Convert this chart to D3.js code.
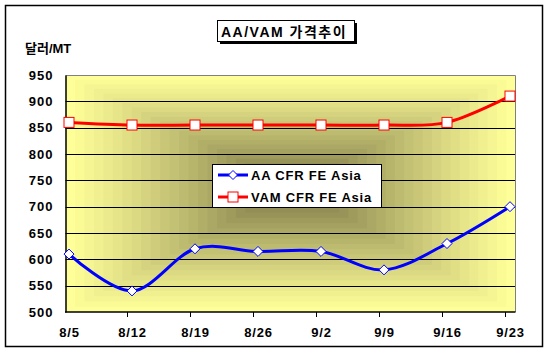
<!DOCTYPE html>
<html><head><meta charset="utf-8">
<script src="https://cdn.jsdelivr.net/npm/d3@7"></script>
<style>body{margin:0;background:#fff}svg{display:block}</style>
</head><body>
<svg id="c" width="549" height="355"></svg>
<script>
const categories = ["8/5","8/12","8/19","8/26","9/2","9/9","9/16","9/23"];
const aaValues = [610,540,620,615,615,580,630,700];
const vamValues = [860,855,855,855,855,855,860,910];
const yTicks = [500,550,600,650,700,750,800,850,900,950];
const seriesNames = ["AA CFR FE Asia","VAM CFR FE Asia"];
const titleText = "AA/VAM 가격추이";
const unitText = "달러/MT";

const svg = d3.select("#c");
const latin = "'Liberation Sans', Arial, sans-serif";
const kr = "'Liberation Sans', 'Noto Sans CJK KR', sans-serif";

// outer border
svg.append("rect").attr("x",5.5).attr("y",5.5).attr("width",537).attr("height",341)
  .attr("fill","#fff").attr("stroke","#000").attr("stroke-width",1.5);

const plot = {l:65.5, t:75, r:515.5, b:312};
const x = d3.scalePoint().domain(categories).range([69,510]);
const y = d3.scaleLinear().domain([500,950]).range([plot.b, plot.t]);

// rectangular gradient from center
const W = plot.r-plot.l, H = plot.b-plot.t;
const cx = plot.l + W*0.505, cy = plot.t + H*0.47;
const steps = 24;
const col = d3.interpolateRgb("#ffff99", "#787345");
const g0 = svg.append("g");
for (let i=0;i<steps;i++){
  const f = 1 - i/steps;
  const left = cx - (cx-plot.l)*f, right = cx + (plot.r-cx)*f;
  const top = cy - (cy-plot.t)*f, bot = cy + (plot.b-cy)*f;
  g0.append("rect").attr("x",left).attr("y",top).attr("width",right-left).attr("height",bot-top)
    .attr("fill", col(Math.pow(i/(steps-1),1.1)));
}

// gridlines
svg.append("g").selectAll("line").data(yTicks.slice(1,-1)).join("line")
  .attr("x1",plot.l).attr("x2",plot.r).attr("y1",d=>Math.round(y(d))+0.5).attr("y2",d=>Math.round(y(d))+0.5)
  .attr("stroke","#000").attr("stroke-width",1);

// plot border top/right gray
svg.append("path").attr("d",`M${plot.l},${plot.t+0.5}H${plot.r}V${plot.b}`)
  .attr("fill","none").attr("stroke","#808080").attr("stroke-width",1);

// axes
const yAxis = d3.axisLeft(y).tickValues(yTicks).tickSize(0).tickPadding(12);
const ya = svg.append("g").attr("transform",`translate(${plot.l},0)`).call(yAxis);
ya.select(".domain").attr("stroke","#000").attr("stroke-width",1.5);
ya.selectAll("text").attr("font-family",latin).attr("font-weight","bold").attr("font-size",13)
  .attr("letter-spacing",1).attr("fill","#000");

const xa = svg.append("g").attr("transform",`translate(0,${plot.b})`)
  .call(d3.axisBottom(x).tickSize(0).tickPadding(16));
xa.select(".domain").remove();
xa.selectAll("text").attr("font-family",latin).attr("font-weight","bold").attr("font-size",13)
  .attr("letter-spacing",0.8).attr("fill","#000");
svg.append("line").attr("x1",plot.l-0.5).attr("x2",plot.r).attr("y1",plot.b).attr("y2",plot.b)
  .attr("stroke","#000").attr("stroke-width",1.5);
svg.append("g").selectAll("line").data(categories.slice(1)).join("line")
  .attr("x1",d=>Math.round(x(d))-4.5).attr("x2",d=>Math.round(x(d))-4.5)
  .attr("y1",plot.b).attr("y2",plot.b+5).attr("stroke","#000").attr("stroke-width",1);

// lines
const line = d3.line().x((d,i)=>x(categories[i])).y(d=>y(d)).curve(d3.curveCardinal.tension(0));
svg.append("path").attr("d",line(vamValues)).attr("fill","none").attr("stroke","#ff0000").attr("stroke-width",3);
svg.append("path").attr("d",line(aaValues)).attr("fill","none").attr("stroke","#0000ff").attr("stroke-width",3);

const diamond = (px,py,s)=>`M${px},${py-s}L${px+s},${py}L${px},${py+s}L${px-s},${py}Z`;
svg.append("g").selectAll("rect").data(vamValues).join("rect")
  .attr("x",(d,i)=>x(categories[i])-5).attr("y",d=>y(d)-5).attr("width",10).attr("height",10)
  .attr("fill","#fff").attr("stroke","#ff0000").attr("stroke-width",1);
svg.append("g").selectAll("path").data(aaValues).join("path")
  .attr("d",(d,i)=>diamond(x(categories[i]),y(d),5))
  .attr("fill","#fff").attr("stroke","#0000ff").attr("stroke-width",1);

// legend
const lg = svg.append("g");
lg.append("rect").attr("x",212.5).attr("y",164.5).attr("width",169).attr("height",43)
  .attr("fill","#fff").attr("stroke","#000").attr("stroke-width",1);
const rows = [{name:seriesNames[0],c:"#0000ff",t:"d"},{name:seriesNames[1],c:"#ff0000",t:"s"}];
rows.forEach((r,i)=>{
  const ly = 175 + i*22;
  lg.append("line").attr("x1",218).attr("x2",248).attr("y1",ly).attr("y2",ly).attr("stroke",r.c).attr("stroke-width",3);
  if (r.t==="d") lg.append("path").attr("d",diamond(233,ly,4.5)).attr("fill","#fff").attr("stroke",r.c);
  else lg.append("rect").attr("x",228).attr("y",ly-5).attr("width",10).attr("height",10).attr("fill","#fff").attr("stroke",r.c);
  lg.append("text").attr("x",251).attr("y",ly+5).text(r.name)
    .attr("font-family",latin).attr("font-weight","bold").attr("font-size",13)
    .attr("letter-spacing",0.8).attr("fill","#000");
});

// title
svg.append("rect").attr("x",220).attr("y",23).attr("width",137).attr("height",21).attr("fill","#000");
svg.append("rect").attr("x",217.5).attr("y",20.5).attr("width",137).attr("height",21).attr("fill","#fff").attr("stroke","#000");
svg.append("text").attr("x",221).attr("y",37).text(titleText)
  .attr("font-family",kr).attr("font-weight","bold").attr("font-size",14)
  .attr("letter-spacing",1.5).attr("fill","#000");

svg.append("text").attr("x",25).attr("y",53).text(unitText)
  .attr("font-family",kr).attr("font-weight","bold").attr("font-size",13).attr("fill","#000");
</script>
</body></html>
